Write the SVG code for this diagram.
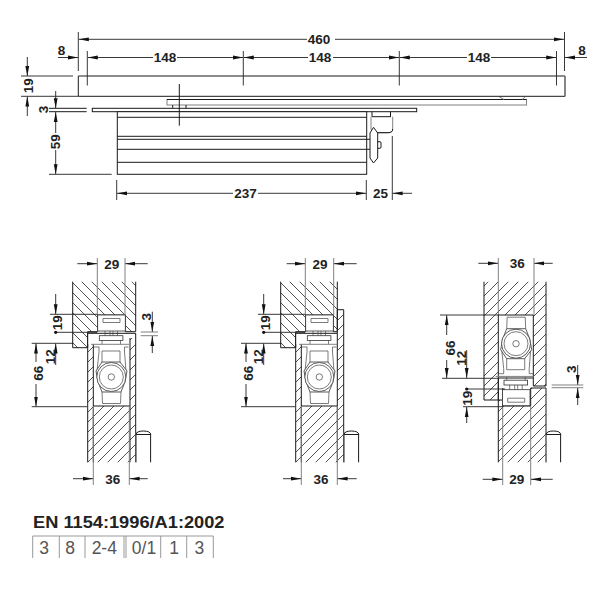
<svg xmlns="http://www.w3.org/2000/svg" width="600" height="600" viewBox="0 0 600 600">
<style>
text{font-family:"Liberation Sans",Arial,sans-serif;fill:#222}
.t{font-weight:700;font-size:13.5px;text-anchor:middle}
.s{fill:none;stroke:#1a1a1a;stroke-width:1}
.m{fill:none;stroke:#444;stroke-width:.7}
.w{fill:#fff;stroke:#1a1a1a;stroke-width:1}
.mw{fill:#fff;stroke:#333;stroke-width:.8}
.n{fill:#fff;stroke:none}
.g{fill:none;stroke:#808080;stroke-width:1}
.e{fill:none;stroke:#222;stroke-width:.9}
.d{fill:none;stroke:#222;stroke-width:.9;marker-end:url(#a)}
.c{fill:none;stroke:#999;stroke-width:1}
.v{font-size:17.5px;fill:#555;text-anchor:middle}
.hb{fill:url(#hb);stroke:none}
.hf{fill:url(#hf);stroke:none}
</style>
<defs>
<marker id="a" markerUnits="userSpaceOnUse" markerWidth="11" markerHeight="6" refX="10" refY="2.5" orient="auto"><path d="M0 .6L10 2.500L0 4.400Z" fill="#111"/></marker>
<pattern id="hb" patternUnits="userSpaceOnUse" width="10" height="10"><path d="M-1 -1L11 11M-1 9L1 11M9 -1L11 1" stroke="#333" stroke-width=".85"/></pattern>
<pattern id="hf" patternUnits="userSpaceOnUse" width="10" height="10"><path d="M-1 11L11 -1M-1 1L1 -1M9 11L11 9" stroke="#333" stroke-width=".85"/></pattern>
<g id="mech">
<rect class="mw" x="97.700" y="315" width="27.600" height="16"/>
<path class="m" d="M103 318.500H120V322.500H103Z"/>
<path class="m" d="M105 331V335.700M110 331V335.700M113 331V335.700M117.500 331V335.700"/>
<rect class="mw" x="99.300" y="335.700" width="23.600" height="4.800"/>
<path class="m" d="M102 340.500V344M120.500 340.500V344"/>
<path class="g" d="M91 344.300H129"/>
<path class="m" d="M93.500 347H99V352L97 371M128.500 347H124.500V352L126 371"/>
<path class="m" d="M102 351H120V365H102Z"/>
<path class="mw" d="M96 371Q97 382 102 392H121Q126 382 127 371L120 362H102Z"/>
<circle class="mw" cx="111.300" cy="377" r="14.500"/>
<circle class="m" cx="111.300" cy="377" r="12"/>
<circle class="m" cx="111.300" cy="377" r="3.200"/>
<path class="m" d="M102 392L102.500 403.500H120.500L121 392"/>
</g>
<g id="hinge"><path class="g" d="M0 462.300V432"/><path class="s" d="M0 434.500Q0 431 7 431Q14 431 14.500 434.500H0Z"/><path class="s" d="M14.300 434.500V462.300"/></g>
</defs>
<rect width="600" height="600" fill="#fff"/>

<g id="top-view">
<rect class="g" x="167" y="99.500" width="359.500" height="5.500"/>
<path class="s" d="M167 99.500H526.500"/>
<path class="g" d="M499 96.500L504 99.500M522 99.500L525 97"/>
<path class="s" d="M172.700 105V108.300M186 105V108.300"/>
<path class="s" d="M78.300 96.300V76H565V96.300H78.300Z"/>
<path class="g" d="M565 76V96.300"/>
<path class="s" d="M49 108.300H86.700M49 111.700H86.700"/>
<rect class="w" x="92.300" y="108.300" width="324.400" height="3.400"/>
<rect class="w" x="117.300" y="111.700" width="249.400" height="62.600"/>
<path class="s" d="M117.300 117.300H366.700M117.300 136.300H366.700M117.300 139.300H366.700M117.300 149.300H366.700M117.300 162.300H366.700"/>
<path class="s" d="M372 111.700V116.700H391M390.500 111.700V116.700"/>
<path class="g" d="M371 116.700V129Q371 132.700 375 132.700H388Q392.700 132.700 392.700 129V116.700"/>
<path class="s" d="M375 132.700H388Q392.700 132.700 392.700 129"/>
<path class="s" d="M366.700 139.300H370.500M366.700 149.300H370.500"/>
<path class="w" d="M370 133L373.500 127.300L377.700 133V158L373.500 163L370 158Z"/>
<path class="s" d="M377.700 141.700H380Q381 141.700 381 143V147Q381 148.300 380 148.300H377.700"/>
<path class="s" d="M179.300 84V125.700"/>
</g>
<g id="top-dimensions">
<path class="e" d="M78.300 32V71M564.500 32V71M87.300 51V85.500M243.300 51V85.500M399.300 51V85.500M556.500 51V85.500M21 76H73M21 96.300H78M49 174.300H111.700M116.700 180V200M366.300 180V200M392.300 136V200"/>
<path class="d" d="M307 39.300H78.800"/><path class="d" d="M335 39.300H564"/>
<path class="d" d="M153 57.500H87.800"/><path class="d" d="M177 57.500H243"/>
<path class="d" d="M308 57.500H243.800"/><path class="d" d="M333 57.500H399"/>
<path class="d" d="M467 57.500H399.800"/><path class="d" d="M491 57.500H556.200"/>
<path class="d" d="M58 57.500H78"/><path class="d" d="M587 57.500H565"/>
<path class="d" d="M27.300 57V76"/><path class="d" d="M27.300 116V96.500"/>
<path class="d" d="M55.700 91V108.300"/><path class="d" d="M55.700 133V111.900"/><path class="d" d="M55.700 150V174.200"/>
<path class="d" d="M233 193.300H117"/><path class="d" d="M258 193.300H366"/><path class="d" d="M412 193.300H392.600"/>
<text class="t" x="319" y="44">460</text>
<text class="t" x="165" y="62">148</text><text class="t" x="320" y="62">148</text><text class="t" x="479" y="62">148</text>
<text class="t" x="61.500" y="55">8</text><text class="t" x="582" y="55">8</text>
<text class="t" x="245.500" y="198">237</text><text class="t" x="380.500" y="198">25</text>
<text class="t" transform="translate(32.700 85.700) rotate(-90)">19</text>
<text class="t" transform="translate(47.700 109.500) rotate(-90)">3</text>
<text class="t" transform="translate(60.400 141.700) rotate(-90)">59</text>
</g>

<g id="section-1">
<path class="hb" d="M135.700 281.700V331.700H125.300V315H97.700V331.700H87.700V347.700H72.700V281.700Z"/>
<path class="s" d="M135.700 281.700V331.700H125.300V315H97.700V331.700H87.700V347.700H72.700V281.700"/>
<path class="hf" d="M87.700 333.300H135.700V462.300H87.700Z"/>
<path class="n" d="M88 333.800H135.200V338H130V406H93.300V344H88Z"/>
<path class="s" d="M87.700 462.300V333.300H135.700V462.300M93.300 462.300V344M130 462.300V338M93.300 406H130"/>
<use href="#mech"/>
<use href="#hinge" x="136.300"/>
</g>
<g id="section-1-dimensions">
<path class="g" d="M97.300 258V315M125 258V315M93.300 406V485M129.300 406V485M140.700 332H158M140.700 335.700H158"/>
<path class="e" d="M50 314.300H97.700M55.700 332.300H97M31.700 343.300H73M31.700 406.700H87"/>
<circle cx="55.700" cy="332.300" r="1.600" fill="#111"/>
<path class="d" d="M77.300 263.700H97"/><path class="d" d="M147.700 263.700H125.300"/>
<path class="d" d="M73 478.700H93"/><path class="d" d="M147.700 478.700H129.600"/>
<path class="d" d="M55.700 294V314.200"/><path class="d" d="M55.700 365V343.500"/>
<path class="d" d="M36 362V343.500"/><path class="d" d="M36 384V406.500"/>
<path class="d" d="M152.300 311.700V331.800"/><path class="d" d="M152.300 353V336"/>
<text class="t" x="111.700" y="268.500">29</text><text class="t" x="112.700" y="483.500">36</text>
<text class="t" transform="translate(62 322.700) rotate(-90)">19</text>
<text class="t" transform="translate(54.500 356.700) rotate(-90)">12</text>
<text class="t" transform="translate(43 373.300) rotate(-90)">66</text>
<text class="t" transform="translate(150.500 316.700) rotate(-90)">3</text>
</g>

<g id="section-2" transform="translate(208 0)">
<path class="hb" d="M129.300 281.700V331.700H125.300V315H97.700V331.700H87.700V347.700H72.700V281.700Z"/>
<path class="s" d="M129.300 281.700V331.700H125.300V315H97.700V331.700H87.700V347.700H72.700V281.700"/>
<path class="hf" d="M129.300 309.700H135.700V462.300H87.700V333.300H129.300Z"/>
<path class="n" d="M88 333.800H129.300V406H93.300V344H88Z"/>
<path class="s" d="M87.700 462.300V333.300H129.300M129.300 309.700H135.700V462.300M93.300 462.300V344M129.300 462.300V309.700M93.300 406H129.300"/>
<use href="#mech"/>
<use href="#hinge" x="136.300"/>
</g>
<g id="section-2-dimensions" transform="translate(208 0)">
<path class="g" d="M97.300 258V315M125.700 258V315M93.300 406V485M129.300 406V485"/>
<path class="e" d="M50 314.300H97.700M55.700 332.300H97M33 343.300H73M33 406.700H87"/>
<circle cx="55.700" cy="332.300" r="1.600" fill="#111"/>
<path class="d" d="M78.700 263.700H97"/><path class="d" d="M148.700 263.700H126"/>
<path class="d" d="M75 478.700H93"/><path class="d" d="M148.700 478.700H129.600"/>
<path class="d" d="M55.700 294V314.200"/><path class="d" d="M55.700 365V343.500"/>
<path class="d" d="M38 362V343.500"/><path class="d" d="M38 384V406.500"/>
<text class="t" x="112" y="268.500">29</text><text class="t" x="113" y="483.500">36</text>
<text class="t" transform="translate(62 322.700) rotate(-90)">19</text>
<text class="t" transform="translate(54.500 356.700) rotate(-90)">12</text>
<text class="t" transform="translate(45 373.300) rotate(-90)">66</text>
</g>

<g id="section-3">
<path class="hf" d="M484 281.700V400H498.300V315H533.300V386H546V281.700Z"/>
<path class="hf" d="M498.300 400H502.700V388H546V462.300H498.300Z"/>
<path class="n" d="M502.700 388H530.700V406H502.700Z"/>
<path class="s" d="M484 281.700V400H503M498.300 400V315H533.300V386H546V281.700"/>
<path class="s" d="M498.300 462.300V378M546 462.300V388H530.700V406H502.700V388M498.300 378H533.300"/>
<use href="#mech" transform="translate(404.700 720.700) scale(1 -1)"/>
<use href="#hinge" x="546.300"/>
</g>
<g id="section-3-dimensions">
<path class="g" d="M498.300 258V315M534 258V315M502.700 406V485M530.700 406V485M551.700 385H583.300M551.700 387.700H583.300"/>
<path class="e" d="M440 315H499M442 378.300H498M466.700 389H505M463 406.700H503"/>
<circle cx="466.700" cy="389" r="1.600" fill="#111"/>
<path class="d" d="M478.300 263.300H498"/><path class="d" d="M552.700 263.300H534.300"/>
<path class="d" d="M482.700 479.300H502.400"/><path class="d" d="M552.700 479.300H531"/>
<path class="d" d="M446.700 335V315.200"/><path class="d" d="M446.700 360V378"/>
<path class="d" d="M466.700 350V378"/><path class="d" d="M466.700 423V407"/>
<path class="d" d="M577.700 365V384.800"/><path class="d" d="M577.700 405V388"/>
<text class="t" x="517.300" y="268">36</text><text class="t" x="516.700" y="484">29</text>
<text class="t" transform="translate(454.500 348) rotate(-90)">66</text>
<text class="t" transform="translate(465.500 358.300) rotate(-90)">12</text>
<text class="t" transform="translate(472 398.300) rotate(-90)">19</text>
<text class="t" transform="translate(575.500 369.300) rotate(-90)">3</text>
</g>

<g id="standard-table">
<text x="33" y="527.700" font-weight="700" font-size="16" textLength="191.500" lengthAdjust="spacingAndGlyphs">EN 1154:1996/A1:2002</text>
<path class="c" d="M32.700 558V536H213.300V558M59.300 536V558M85 536V558M124 536V558M126 536V558M160.700 536V558M186.700 536V558"/>
<text class="v" x="44" y="553.500">3</text><text class="v" x="70" y="553.500">8</text><text class="v" x="104.300" y="553.500">2-4</text><text class="v" x="144" y="553.500">0/1</text><text class="v" x="174" y="553.500">1</text><text class="v" x="199.300" y="553.500">3</text>
</g>
</svg>
